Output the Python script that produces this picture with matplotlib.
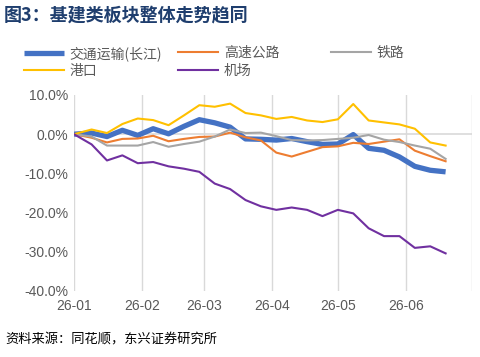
import matplotlib
matplotlib.use('Agg')
import matplotlib.pyplot as plt
import pandas as pd

plt.rcParams['font.family'] = ['Noto Sans CJK SC', 'DejaVu Sans']

# 数据（周度，累计涨跌幅 %）
fechas = ['2026-01-01', '2026-01-09', '2026-01-16', '2026-01-23', '2026-01-30',
          '2026-02-06', '2026-02-13', '2026-02-20', '2026-02-27', '2026-03-06',
          '2026-03-13', '2026-03-20', '2026-03-27', '2026-04-03', '2026-04-10',
          '2026-04-17', '2026-04-24', '2026-05-01', '2026-05-08', '2026-05-15',
          '2026-05-22', '2026-05-29', '2026-06-05', '2026-06-12', '2026-06-19']

jiaotong = [0, 0.3, -0.6, 1.0, -0.3, 1.4, 0.1, 2.0, 3.7, 2.9, 1.8, -1.2, -1.3,
            -1.5, -1.1, -1.9, -2.6, -2.5, -0.1, -3.6, -4.1, -5.8, -8.2, -9.2, -9.6]
gaosu = [0, -0.9, -2.1, -1.2, -1.1, -0.4, -1.8, -1.2, -0.7, -0.6, 0.4, -0.8, -1.6,
         -4.7, -5.7, -4.5, -3.3, -3.1, -2.2, -2.5, -1.9, -1.3, -4.2, -5.6, -6.9]
tielu = [0, -0.6, -2.9, -2.9, -2.9, -2.0, -3.2, -2.5, -1.9, -0.6, 1.2, 0.3, 0.4,
         -0.5, -1.5, -1.6, -1.5, -1.2, -0.9, -0.2, -1.4, -2.0, -2.9, -3.7, -6.3]
gangkou = [0, 1.2, 0.3, 2.6, 4.0, 3.6, 2.3, 4.8, 7.4, 7.0, 7.8, 5.4, 4.8,
           3.9, 4.4, 3.5, 3.1, 3.8, 7.7, 3.5, 3.0, 2.5, 1.4, -2.1, -2.9]
jichang = [0, -2.6, -6.7, -5.4, -7.4, -7.1, -8.2, -8.8, -9.6, -12.6, -14.0, -16.8, -18.4,
           -19.3, -18.7, -19.3, -20.9, -19.3, -20.2, -24.0, -26.0, -26.0, -29.0, -28.6, -30.4]

x = pd.to_datetime(fechas)
gris = '#595959'

fig = plt.figure(figsize=(4.8, 3.57), dpi=100)
ax = fig.add_axes([74/480, 1-291/357, (472-74)/480, (291-95)/357])

l1, = ax.plot(x, jiaotong, color='#4472C4', lw=3.8, solid_capstyle='butt', zorder=3)
l2, = ax.plot(x, gaosu, color='#ED7D31', lw=1.5, zorder=3)
l3, = ax.plot(x, tielu, color='#A5A5A5', lw=1.5, zorder=3)
l4, = ax.plot(x, gangkou, color='#FFC000', lw=1.5, zorder=3)
l5, = ax.plot(x, jichang, color='#7030A0', lw=1.5, zorder=3)

ax.set_ylim(-40, 10)
ax.set_yticks([10, 0, -10, -20, -30, -40])
ax.set_yticklabels(['10.0%', '0.0%', '-10.0%', '-20.0%', '-30.0%', '-40.0%'])
ax.set_xlim(pd.Timestamp('2026-01-01'), pd.Timestamp('2026-07-01'))
meses = pd.to_datetime(['2026-01-01', '2026-02-01', '2026-03-01', '2026-04-01',
                        '2026-05-01', '2026-06-01', '2026-07-01'])
ax.set_xticks(meses)
ax.set_xticklabels(['26-01', '26-02', '26-03', '26-04', '26-05', '26-06', ''])
ax.grid(axis='x', color='#D9D9D9', lw=1)
ax.axhline(0, color='#D9D9D9', lw=1.2, zorder=1)
for s in ax.spines.values():
    s.set_visible(False)
ax.tick_params(length=0, labelsize=10, labelcolor=gris, pad=6)
for t in ax.get_xticklabels() + ax.get_yticklabels():
    t.set_family('Liberation Sans')
ax.tick_params(axis='y', pad=4)

fig.text(0.008, 0.958, '图3：基建类板块整体走势趋同', fontsize=13, fontweight='bold',
         color='#1F3E6E', va='center', ha='left')

# leyenda en tres columnas
kw = dict(frameon=False, fontsize=10, handlelength=2.9, handletextpad=0.4,
          labelspacing=0.25, labelcolor=gris, loc='upper left', borderaxespad=0, borderpad=0)
fig.legend([l1, l4], ['交通运输(长江)', '港口'], bbox_to_anchor=(24/480, 1-46/357), **kw)
fig.legend([l2, l5], ['高速公路', '机场'], bbox_to_anchor=(178/480, 1-46/357), **kw)
fig.legend([l3], ['铁路'], bbox_to_anchor=(331/480, 1-46/357), **kw)

fig.text(0.012, 0.047, '资料来源：同花顺，东兴证券研究所', fontsize=9.5, style='italic',
         color='#000000', va='center', ha='left')

fig.savefig('out.png', dpi=100)
